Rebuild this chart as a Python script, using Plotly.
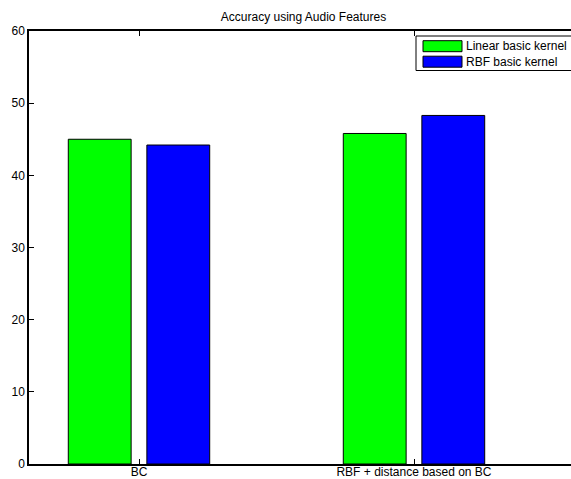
import plotly.graph_objects as go

categories = ["BC", "RBF + distance based on BC"]
series_names = ["Linear basic kernel", "RBF basic kernel"]
linear_vals = [45.0, 45.8]
rbf_vals = [44.2, 48.3]
colors = ["#00ff00", "#0000ff"]
y_ticks = [0, 10, 20, 30, 40, 50, 60]

W, H = 571, 479
L, T = 29, 31
B = H - 464
x_pos = [1, 2]
x_left = 0.6
px_per_unit = 275.0
x_right = x_left + (W - L) / px_per_unit  # axes continue past the window edge, as in the reference

fig = go.Figure()
for name, vals, col in zip(series_names, [linear_vals, rbf_vals], colors):
    fig.add_trace(go.Bar(
        x=x_pos, y=vals, name=name,
        marker=dict(color=col, line=dict(color="#000000", width=1)),
        showlegend=False, hoverinfo="skip",
    ))

font = dict(family="Liberation Sans, Arial, Helvetica, sans-serif", size=12, color="#000000")

fig.update_layout(
    width=W, height=H,
    margin=dict(l=L, r=0, t=T, b=B, autoexpand=False),
    paper_bgcolor="white", plot_bgcolor="white",
    barmode="group", bargap=1 - 2 / 3.5, bargroupgap=0.2,
    font=font,
    title=dict(text="Accuracy using Audio Features", x=303.5 / W, xanchor="center",
               xref="container", y=1 - 17 / H, yref="container", yanchor="middle",
               font=dict(size=12)),
)
fig.update_xaxes(
    range=[x_left, x_right], tickvals=x_pos, ticktext=categories,
    ticks="inside", ticklen=5, tickwidth=1, tickcolor="#000", ticklabelstandoff=-4,
    showline=True, linecolor="#000", linewidth=1.5, mirror="ticks",
    showgrid=False, zeroline=False, automargin=False, fixedrange=True,
)
fig.update_yaxes(
    range=[0, 60], tickvals=y_ticks,
    ticks="inside", ticklen=5, tickwidth=1, tickcolor="#000",
    showline=True, linecolor="#000", linewidth=1.5,
    showgrid=False, zeroline=False, automargin=False, fixedrange=True,
)

# manual MATLAB-style legend (positions in page pixels)
pw = W - L
ph = H - T - B
def px_x(x):
    return (x - L) / pw
def px_y(y):
    return 1 - (y - T) / ph

fig.add_shape(type="rect", xref="paper", yref="paper",
              x0=px_x(416), x1=px_x(580), y0=px_y(70.5), y1=px_y(36),
              line=dict(color="#000", width=1), fillcolor="white", layer="above")
for i, (name, col) in enumerate(zip(series_names, colors)):
    yc = 46.2 + i * 15.5
    fig.add_shape(type="rect", xref="paper", yref="paper",
                  x0=px_x(423), x1=px_x(462), y0=px_y(yc + 5.5), y1=px_y(yc - 5.5),
                  line=dict(color="#000", width=1), fillcolor=col, layer="above")
    fig.add_annotation(xref="paper", yref="paper", x=px_x(464), y=px_y(yc),
                       text=name, showarrow=False, xanchor="left", yanchor="middle",
                       font=dict(size=12))

fig.write_html(
    "out.html",
    config={"displayModeBar": False},
    post_script="document.body.style.margin='0';document.body.style.overflow='hidden';"
                "document.documentElement.style.overflow='hidden';",
)
